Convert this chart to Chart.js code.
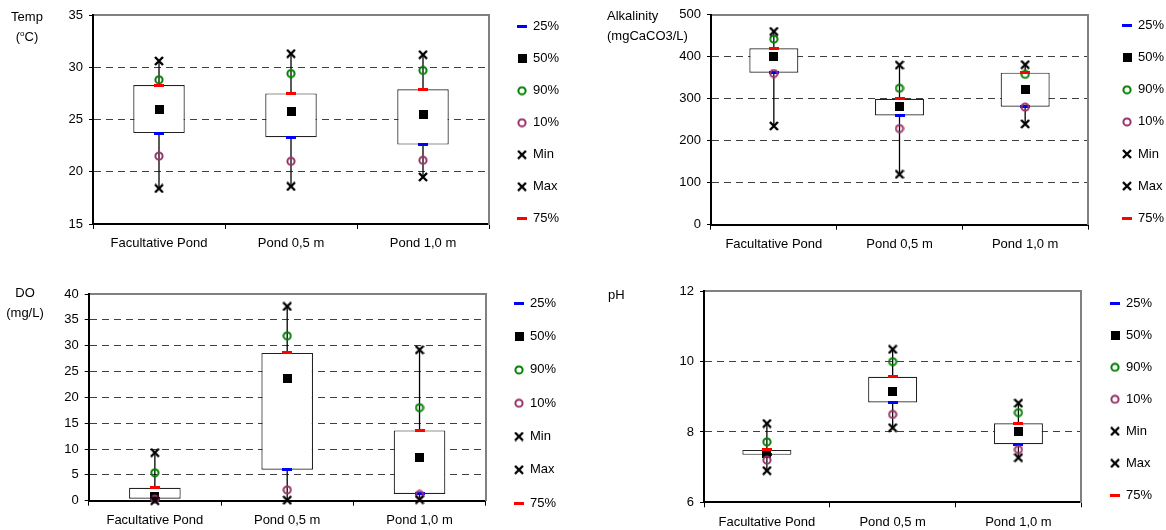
<!DOCTYPE html>
<html>
<head>
<meta charset="utf-8">
<script src="https://cdn.jsdelivr.net/npm/chart.js@4.4.1/dist/chart.umd.min.js"></script>
<style>
  html, body { margin: 0; padding: 0; background: #fff; overflow: hidden; }
  body { width: 1166px; height: 530px; position: relative; font-family: "Liberation Sans", Arial, sans-serif; }
  canvas { position: absolute; }
  .unit { position: absolute; font-size: 13px; line-height: 20px; color: #000; white-space: nowrap; }
  .center { text-align: center; }
  sup { font-size: 8px; vertical-align: 5px; line-height: 0; }
</style>
</head>
<body>
<canvas id="temp" width="583" height="265" style="left:0;top:0"></canvas>
<canvas id="alk" width="591" height="265" style="left:575px;top:0"></canvas>
<canvas id="do" width="583" height="300" style="left:0;top:250px"></canvas>
<canvas id="ph" width="591" height="300" style="left:575px;top:250px"></canvas>

<div class="unit center" style="left:5px;top:7px;width:44px">Temp<br>(<sup>o</sup>C)</div>
<div class="unit" style="left:607px;top:6px">Alkalinity<br>(mgCaCO3/L)</div>
<div class="unit center" style="left:3px;top:283px;width:44px">DO<br>(mg/L)</div>
<div class="unit" style="left:608px;top:285px">pH</div>

<script>
var categories = ['Facultative Pond', 'Pond 0,5 m', 'Pond 1,0 m'];
var seriesLabels = ['25%', '50%', '90%', '10%', 'Min', 'Max', '75%'];

// Temp (oC)
var temp25 = [23.7, 23.3, 22.6];
var temp50 = [26.0, 25.8, 25.5];
var temp90 = [28.8, 29.4, 29.7];
var temp10 = [21.5, 21.0, 21.1];
var tempMin = [18.4, 18.6, 19.5];
var tempMax = [30.6, 31.3, 31.2];
var temp75 = [28.3, 27.5, 27.9];

// Alkalinity (mgCaCO3/L)
var alk25 = [362, 260, 281];
var alk50 = [400, 281, 322];
var alk90 = [442, 325, 358];
var alk10 = [360, 229, 280];
var alkMin = [235, 120, 240];
var alkMax = [460, 380, 381];
var alk75 = [420, 300, 362];

// DO (mg/L)
var do25 = [0.4, 6.0, 1.3];
var do50 = [0.9, 23.6, 8.3];
var do90 = [5.4, 31.9, 18.0];
var do10 = [0.3, 2.1, 1.2];
var doMin = [0.0, 0.1, 0.2];
var doMax = [9.3, 37.6, 29.2];
var do75 = [2.5, 28.6, 13.6];

// pH
var ph25 = [7.35, 8.84, 7.65];
var ph50 = [7.40, 9.15, 8.00];
var ph90 = [7.72, 10.00, 8.55];
var ph10 = [7.20, 8.50, 7.50];
var phMin = [6.90, 8.12, 7.27];
var phMax = [8.24, 10.35, 8.82];
var ph75 = [7.49, 9.57, 8.25];

Chart.defaults.font.family = '"Liberation Sans", Arial, sans-serif';
Chart.defaults.font.size = 13;
Chart.defaults.color = '#000';

// small canvases used as point styles (chart and legend)
function marker(kind, color) {
    var c = document.createElement('canvas');
    var g = c.getContext('2d');
    if (kind === 'dash') {
        c.width = 10; c.height = 3;
        g.fillStyle = color; g.fillRect(0, 0, 10, 3);
    } else if (kind === 'square') {
        c.width = 9; c.height = 9;
        g.fillStyle = color; g.fillRect(0, 0, 9, 9);
    } else if (kind === 'ring') {
        c.width = 10; c.height = 10;
        g.strokeStyle = color; g.lineWidth = 2;
        g.beginPath(); g.arc(5, 5, 3.6, 0, Math.PI * 2); g.stroke();
    } else {
        c.width = 10; c.height = 10;
        g.strokeStyle = color; g.lineWidth = 2.4;
        g.beginPath(); g.moveTo(1, 1); g.lineTo(9, 9); g.moveTo(9, 1); g.lineTo(1, 9); g.stroke();
    }
    return c;
}

var markers = [
    marker('dash', '#0000ff'),
    marker('square', '#000'),
    marker('ring', '#008000'),
    marker('ring', '#993366'),
    marker('cross', '#000'),
    marker('cross', '#000'),
    marker('dash', '#ff0000')
];

function BuildPanel(id, values, yRange, geo) {
    var ctx = document.getElementById(id).getContext('2d');

    // values order: 25, 50, 90, 10, Min, Max, 75 (last one drawn on top, as in Excel)
    var datasets = values.map(function (v, i) {
        return {
            type: 'line',
            label: seriesLabels[i],
            data: v,
            showLine: false,
            pointStyle: markers[i],
            pointRadius: 5,
            clip: false,
            order: 7 - i
        };
    });

    datasets.push({
        type: 'bar',
        label: 'box',
        data: categories.map(function (c, i) { return [values[0][i], values[6][i]]; }),
        backgroundColor: '#fff',
        borderColor: '#222',
        borderWidth: 1.2,
        borderSkipped: false,
        grouped: false,
        barPercentage: 0.39,
        categoryPercentage: 1,
        order: 8
    });

    datasets.push({
        type: 'bar',
        label: 'whisker',
        data: categories.map(function (c, i) { return [values[4][i], values[5][i]]; }),
        backgroundColor: '#000',
        grouped: false,
        barPercentage: 0.02,
        categoryPercentage: 1,
        maxBarThickness: 1.3,
        order: 9
    });

    var options = {
        responsive: false,
        animation: false,
        devicePixelRatio: 1,
        layout: { padding: { top: geo.padTop, right: geo.padRight, left: 0, bottom: 0 } },
        plugins: {
            tooltip: { enabled: false },
            legend: {
                position: 'right',
                align: 'start',
                maxWidth: geo.legendW,
                labels: {
                    usePointStyle: true,
                    boxWidth: 9,
                    boxHeight: 9,
                    padding: geo.legendPad,
                    color: '#000',
                    font: { size: 13 },
                    filter: function (item) { return item.text !== 'box' && item.text !== 'whisker'; },
                    sort: function (a, b) { return a.datasetIndex - b.datasetIndex; }
                }
            }
        },
        scales: {
            x: {
                type: 'category',
                offset: true,
                grid: { offset: true, drawOnChartArea: false, tickLength: 5, tickColor: '#000' },
                border: { color: '#000', width: 2 },
                ticks: { color: '#000', padding: 7, maxRotation: 0, autoSkip: false },
                afterFit: function (s) { s.height = geo.xHeight; }
            },
            x2: {
                type: 'category',
                position: 'top',
                offset: true,
                grid: { display: false },
                border: { color: '#808080', width: 2 },
                ticks: { display: false },
                afterFit: function (s) { s.height = geo.topH; }
            },
            y: {
                min: yRange[0],
                max: yRange[1],
                ticks: { stepSize: yRange[2], color: '#000', padding: 6 },
                grid: {
                    tickLength: 4,
                    tickColor: '#000',
                    color: function (c) {
                        var v = c.tick ? c.tick.value : null;
                        return (v === yRange[0] || v === yRange[1]) ? 'rgba(0,0,0,0)' : '#404040';
                    }
                },
                border: { color: '#000', width: 2, dash: [7, 5] },
                afterFit: function (s) { s.width = geo.yWidth; }
            },
            y2: {
                position: 'right',
                grid: { display: false },
                border: { color: '#808080', width: 2 },
                ticks: { display: false },
                afterFit: function (s) { s.width = geo.y2Width; }
            }
        }
    };

    return new Chart(ctx, {
        type: 'bar',
        data: { labels: categories, datasets: datasets },
        options: options
    });
}

BuildPanel('temp', [temp25, temp50, temp90, temp10, tempMin, tempMax, temp75], [15, 35, 5],
    { yWidth: 93, padTop: 1.2, topH: 13.8, xHeight: 41, legendPad: 19, y2Width: 9.5, legendW: 70, padRight: 14.5 });

BuildPanel('alk', [alk25, alk50, alk90, alk10, alkMin, alkMax, alk75], [0, 500, 100],
    { yWidth: 136, padTop: 0, topH: 14.7, xHeight: 40.3, legendPad: 19.1, y2Width: 15.4, legendW: 62.6, padRight: 0 });

BuildPanel('do', [do25, do50, do90, do10, doMin, doMax, do75], [0, 40, 5],
    { yWidth: 88.7, padTop: 26.5, topH: 17.5, xHeight: 49.3, legendPad: 20.3, y2Width: 8.5, legendW: 70, padRight: 18.8 });

BuildPanel('ph', [ph25, ph50, ph90, ph10, phMin, phMax, ph75], [6, 12, 2],
    { yWidth: 129, padTop: 27.8, topH: 13.5, xHeight: 47.7, legendPad: 19, y2Width: 10.2, legendW: 70, padRight: 4.5 });
</script>
</body>
</html>
